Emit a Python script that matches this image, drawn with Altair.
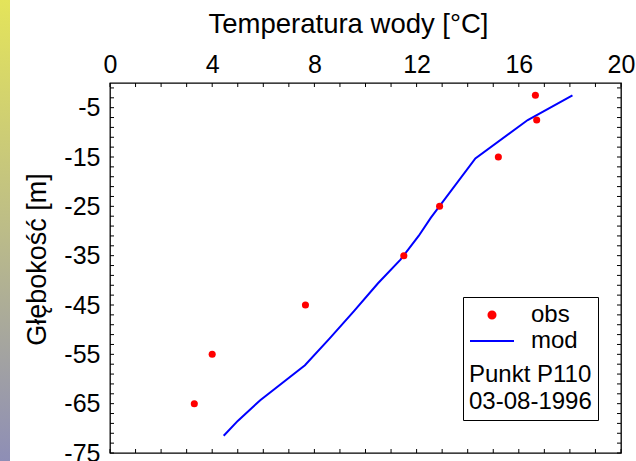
import altair as alt
import pandas as pd

# observed temperature profile
obs_temp = [16.65, 16.7, 15.2, 12.9, 11.5, 7.65, 4.0, 3.3]
obs_depth = [-2.5, -7.5, -15, -25, -35, -45, -55, -65]

# modelled temperature profile
mod_temp = [18.1, 16.35, 14.3, 12.56, 12.08, 11.37, 10.49, 9.54, 8.59, 7.63, 5.88, 5.0, 4.45]
mod_depth = [-2.5, -7.5, -15.3, -27.3, -31.0, -35.8, -40.6, -46.3, -51.8, -57.2, -64.3, -68.5, -71.5]

x_labels = [0, 4, 8, 12, 16, 20]
y_labels = [-5, -15, -25, -35, -45, -55, -65, -75]
x_ticks = list(range(0, 21))
y_ticks = list(range(-1, -76, -2))

FONT = "Liberation Sans"
W, H = 511, 370

obs_df = pd.DataFrame({"t": obs_temp, "d": obs_depth, "src": ["obs"] * len(obs_temp)})
mod_df = pd.DataFrame({"t": mod_temp, "d": mod_depth, "i": list(range(len(mod_temp)))})
xt_df = pd.DataFrame({"t": x_ticks})
yt_df = pd.DataFrame({"d": y_ticks})

xscale = alt.Scale(domain=[0, 20], nice=False, zero=False)
yscale = alt.Scale(domain=[-75, 0], nice=False, zero=False)

x_axis = alt.Axis(
    orient="top", values=x_labels, ticks=False, domain=False, grid=False,
    labelFont=FONT, labelFontSize=25, labelColor="black", labelPadding=6,
    labelFlush=False, labelOverlap=False,
    title="Temperatura wody [°C]", titleFont=FONT, titleFontSize=27.5,
    titleFontWeight="normal", titleColor="black", titleX=238, titleY=-59,
    titleBaseline="middle", titleAlign="center",
)
y_axis = alt.Axis(
    orient="left", values=y_labels, ticks=False, domain=False, grid=False,
    labelFont=FONT, labelFontSize=25, labelColor="black", labelPadding=10,
    labelFlush=False, labelOverlap=False,
    labelExpr="'' + datum.value", labelBaseline="middle",
    title="Głębokość [m]", titleFont=FONT, titleFontSize=27,
    titleFontWeight="normal", titleColor="black", titleX=-73, titleY=176,
    titleAngle=-90, titleBaseline="middle", titleAlign="center",
)

legend = alt.Legend(
    orient="none", legendX=353, legendY=214,
    title=["Punkt P110", "03-08-1996"], titleOrient="bottom",
    titleFont=FONT, titleFontSize=24, titleFontWeight="normal", titleColor="black",
    titleLineHeight=27, titleAlign="left", titlePadding=10,
    labelFont=FONT, labelFontSize=24, labelColor="black", labelOffset=16,
    strokeColor="black", fillColor="white", padding=6, rowPadding=2,
    clipHeight=24, symbolStrokeWidth=2,
)

dom = ["obs", "mod"]

X = alt.X("t:Q", scale=xscale, axis=x_axis)
Y = alt.Y("d:Q", scale=yscale, axis=y_axis)

line = alt.Chart(mod_df).mark_line(color="#0000ff", strokeWidth=2).encode(
    x=X, y=Y, order="i:O",
)

points = alt.Chart(obs_df).mark_point(filled=True, strokeWidth=0, opacity=1).encode(
    x=X, y=Y,
    fill=alt.Fill("src:N", scale=alt.Scale(domain=dom, range=["#ff0000", "#0000ff"]), legend=legend),
    stroke=alt.Stroke("src:N", scale=alt.Scale(domain=dom, range=["#ff0000", "#0000ff"]), legend=legend),
    shape=alt.Shape("src:N", scale=alt.Scale(domain=dom, range=["circle", "stroke"]), legend=legend),
    size=alt.Size("src:N", scale=alt.Scale(type="ordinal", domain=dom, range=[50, 1936]), legend=legend),
)

top_ticks = alt.Chart(xt_df).mark_rule(color="black", strokeWidth=1).encode(
    x=X, y=alt.value(0), y2=alt.value(4))
bot_ticks = alt.Chart(xt_df).mark_rule(color="black", strokeWidth=1).encode(
    x=X, y=alt.value(H - 4), y2=alt.value(H))
left_ticks = alt.Chart(yt_df).mark_rule(color="black", strokeWidth=1).encode(
    y=Y, x=alt.value(0), x2=alt.value(4))
right_ticks = alt.Chart(yt_df).mark_rule(color="black", strokeWidth=1).encode(
    y=Y, x=alt.value(W - 4), x2=alt.value(W))

strip = alt.Chart(pd.DataFrame({"a": [0]})).mark_rect(
    fill={"gradient": "linear", "x1": 0, "y1": 0, "x2": 0, "y2": 1,
          "stops": [{"offset": 0, "color": "#e4e45a"},
                    {"offset": 0.5, "color": "#bcbc88"},
                    {"offset": 1, "color": "#8e8eb6"}]},
    strokeWidth=0,
).encode(x=alt.value(-110), x2=alt.value(-100), y=alt.value(-83), y2=alt.value(H + 8))

chart = alt.layer(
    line, points, top_ticks, bot_ticks, left_ticks, right_ticks, strip
).properties(
    width=W, height=H,
    autosize=alt.AutoSizeParams(type="none"),
    padding={"left": 110, "top": 83, "right": 15, "bottom": 8},
    background="white",
).configure_view(stroke="black", strokeWidth=1.3)

chart.save("out.html", embed_options={"renderer": "svg", "actions": False})
